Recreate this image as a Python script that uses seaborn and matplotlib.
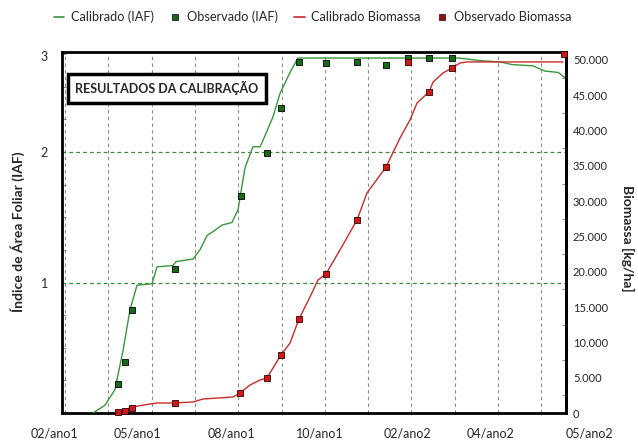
import numpy as np
import matplotlib
matplotlib.use("Agg")
import matplotlib.pyplot as plt
import matplotlib.transforms as mtransforms
from matplotlib.lines import Line2D
from matplotlib.ticker import FuncFormatter, MultipleLocator
import seaborn as sns

# dias contados a partir do inicio da simulacao
iaf_calib_dias = [19.4, 27.7, 34.6, 40.2, 45.0, 49.9, 60.3, 63.7, 74.8, 76.9, 88.7, 93.5,
                  98.4, 102.5, 108.8, 115.7, 119.9, 124.7, 130.2, 135.1, 137.2, 144.1,
                  149.0, 155.9, 161.4, 273.0, 287.5, 301.4, 309.7, 324.2, 332.5, 341.6, 346.4]
iaf_calib = [0.00, 0.06, 0.18, 0.48, 0.79, 0.98, 0.99, 1.12, 1.13, 1.16, 1.18, 1.25,
             1.36, 1.39, 1.44, 1.46, 1.56, 1.88, 2.04, 2.04, 2.09, 2.27,
             2.45, 2.61, 2.72, 2.72, 2.70, 2.69, 2.67, 2.66, 2.62, 2.61, 2.57]

iaf_obs_dias = [36.7, 41.6, 46.4, 76.2, 121.9, 139.9, 149.6, 162.1, 180.8, 202.3, 222.4,
                237.6, 252.2, 268.1]
iaf_obs = [0.22, 0.39, 0.79, 1.10, 1.66, 1.99, 2.34, 2.69, 2.68, 2.69, 2.67, 2.72, 2.72, 2.72]

bio_calib_dias = [36.0, 46.4, 58.9, 63.7, 76.2, 88.7, 95.6, 116.4, 121.2, 128.2, 135.1, 139.9,
                  149.6, 155.9, 162.1, 169.7, 175.3, 180.8, 190.5, 202.3, 209.2, 222.4,
                  232.1, 239.0, 243.9, 252.2, 255.0, 261.9, 268.1, 273.7, 278.5, 345.0]
bio_calib = [0, 850, 1270, 1420, 1420, 1560, 1980, 2270, 2830, 3970, 4670, 4960,
             8220, 9910, 13310, 16430, 18840, 19690, 23090, 27340, 31160, 34840,
             38950, 41500, 43910, 45470, 46880, 48160, 48870, 49570, 49720, 49720]

bio_obs_dias = [36.7, 41.6, 46.4, 76.2, 121.2, 139.9, 149.6, 162.1, 180.8, 202.3, 222.4,
                237.6, 252.2, 268.1, 345.7]
bio_obs = [100, 300, 700, 1400, 2800, 5000, 8200, 13300, 19700, 27300, 34800,
           49700, 45500, 48900, 50800]

x_labels = ["02/ano1", "05/ano1", "08/ano1", "10/ano1", "02/ano2", "04/ano2", "05/ano2"]
x_label_dias = [-7.6, 49.9, 115.0, 176.7, 237.0, 295.1, 363.0]

verde = "#3a963a"
verde_esc = "#17691a"
vermelho = "#cc2a2a"
vermelho_esc = "#d01818"

sns.set_style("white")
plt.rcParams["font.family"] = ["Lato", "DejaVu Sans"]

fig = plt.figure(figsize=(6.38, 4.42), dpi=100)
ax = fig.add_axes([62 / 638, 29 / 442, 504 / 638, 361 / 442])
ax2 = ax.twinx()

# IAF (eixo esquerdo)
sns.lineplot(x=iaf_calib_dias, y=iaf_calib, ax=ax, color=verde, lw=1.0, zorder=3)
sns.scatterplot(x=iaf_obs_dias, y=iaf_obs, ax=ax, marker="s", s=22, color=verde_esc,
                edgecolor="black", linewidth=0.6, zorder=4)

# Biomassa (eixo direito)
sns.lineplot(x=bio_calib_dias, y=bio_calib, ax=ax2, color=vermelho, lw=1.0, zorder=3)
sns.scatterplot(x=bio_obs_dias, y=bio_obs, ax=ax2, marker="s", s=22, color=vermelho_esc,
                edgecolor="#330000", linewidth=0.6, zorder=4, clip_on=False)

iaf_top = (413 - 52) / 130.5
ax.set_xlim(-2.1, 347.1)
ax.set_ylim(0, iaf_top)
ax2.set_ylim(0, 51130)

ax.set_xticks(np.arange(0, 331, 30))
ax.set_xticklabels([])
ax.tick_params(axis="x", length=0)
ax.grid(axis="x", color="#8a8a8a", ls=(0, (3, 3)), lw=0.8)
ax.grid(axis="y", visible=False)
for v in [1, 2]:
    ax.axhline(v, color="#3a8a3a", ls=(0, (3, 2.5)), lw=0.9, zorder=1)

ax.set_yticks([1, 2, iaf_top - 0.03])
ax.set_yticklabels(["1", "2", "3"])
ax.yaxis.set_minor_locator(MultipleLocator(0.25))
ax.tick_params(axis="y", which="major", length=0, pad=10, labelsize=9)
ax.tick_params(axis="y", which="minor", left=True, direction="in", length=3,
               color="#777777", width=0.6)

ax2.set_yticks(np.arange(0, 50001, 5000))
ax2.yaxis.set_major_formatter(FuncFormatter(lambda v, p: f"{v:,.0f}".replace(",", ".")))
ax2.yaxis.set_minor_locator(MultipleLocator(2500))
ax2.tick_params(axis="y", which="major", length=0, pad=5, labelsize=8)
ax2.tick_params(axis="y", which="minor", right=True, direction="in", length=3,
                color="#777777", width=0.6)
ax.set_xlabel("")
ax.set_ylabel("")
ax2.set_ylabel("")

for sp in ax.spines.values():
    sp.set_visible(True)
    sp.set_color("black")
    sp.set_linewidth(2)
for sp in ax2.spines.values():
    sp.set_visible(False)
ax2.spines["right"].set_visible(True)
ax2.spines["right"].set_color("black")
ax2.spines["right"].set_linewidth(2)

trans = mtransforms.blended_transform_factory(ax.transData, ax.transAxes)
for d, lab in zip(x_label_dias, x_labels):
    ax.text(d, -0.058, lab, transform=trans, ha="center", va="center", fontsize=9,
            clip_on=False)

fig.text(18 / 638, 1 - 232 / 442, "Índice de Área Foliar (IAF)", rotation=90,
         ha="center", va="center", fontsize=10, fontweight="bold")
fig.text(628 / 638, 1 - 238 / 442, "Biomassa [kg/ha]", rotation=-90,
         ha="center", va="center", fontsize=10, fontweight="bold")

ax.text(0.208, 0.9, "RESULTADOS DA CALIBRAÇÃO", transform=ax.transAxes, ha="center",
        va="center", fontsize=9, fontweight="bold", zorder=6,
        bbox=dict(boxstyle="square,pad=0.6", fc="white", ec="black", lw=2.5))

handles = [
    Line2D([], [], color=verde, lw=1.2),
    Line2D([], [], marker="s", ls="", markersize=4, markerfacecolor=verde_esc,
           markeredgecolor="black", markeredgewidth=0.5),
    Line2D([], [], color=vermelho, lw=1.2),
    Line2D([], [], marker="s", ls="", markersize=4, markerfacecolor="#8a1010",
           markeredgecolor="#330000", markeredgewidth=0.5),
]
fig.legend(handles, ["Calibrado (IAF)", "Observado (IAF)", "Calibrado Biomassa",
                     "Observado Biomassa"],
           loc="center", bbox_to_anchor=(0.49, 0.962), ncol=4, frameon=False,
           fontsize=9.2, handlelength=0.8, handletextpad=0.5, columnspacing=1.3)

fig.savefig("out.png", dpi=100)
